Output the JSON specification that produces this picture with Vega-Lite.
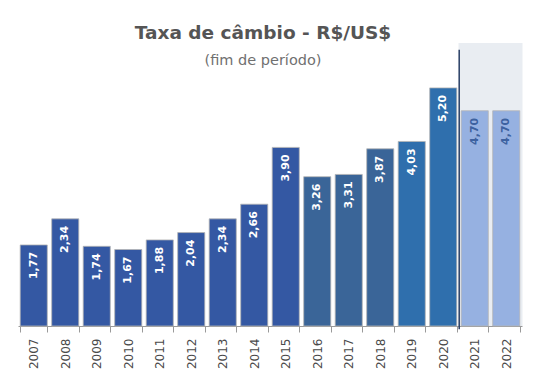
{
  "$schema": "https://vega.github.io/schema/vega-lite/v6.json",
  "width": 504,
  "height": 283,
  "autosize": {"type": "none"},
  "padding": {"left": 18, "top": 43, "right": 33, "bottom": 61},
  "background": "white",
  "config": {
    "view": {"stroke": null},
    "locale": {"number": {"decimal": ",", "thousands": ".", "grouping": [3], "currency": ["R$", ""]}}
  },
  "title": {
    "text": "Taxa de câmbio - R$/US$",
    "subtitle": "(fim de período)",
    "anchor": "middle",
    "frame": "group",
    "offset": -24,
    "dx": -7,
    "font": "DejaVu Sans",
    "fontSize": 18.5,
    "fontWeight": "bold",
    "color": "#555555",
    "subtitleFont": "DejaVu Sans",
    "subtitleFontSize": 14.5,
    "subtitleColor": "#707070",
    "subtitlePadding": 11
  },
  "data": {
    "values": [
      {"year": "2007", "value": 1.77},
      {"year": "2008", "value": 2.34},
      {"year": "2009", "value": 1.74},
      {"year": "2010", "value": 1.67},
      {"year": "2011", "value": 1.88},
      {"year": "2012", "value": 2.04},
      {"year": "2013", "value": 2.34},
      {"year": "2014", "value": 2.66},
      {"year": "2015", "value": 3.90},
      {"year": "2016", "value": 3.26},
      {"year": "2017", "value": 3.31},
      {"year": "2018", "value": 3.87},
      {"year": "2019", "value": 4.03},
      {"year": "2020", "value": 5.20},
      {"year": "2021", "value": 4.70},
      {"year": "2022", "value": 4.70}
    ]
  },
  "encoding": {
    "x": {
      "field": "year",
      "type": "ordinal",
      "scale": {"paddingInner": 0.14, "paddingOuter": 0.07},
      "axis": {
        "title": null,
        "labelAngle": 270,
        "labelAlign": "right",
        "labelBaseline": "middle",
        "labelFont": "DejaVu Sans",
        "labelFontSize": 12,
        "labelColor": "#4a4a4a",
        "labelPadding": 6,
        "domainColor": "#9a9a9a",
        "tickColor": "#9a9a9a",
        "tickBand": "extent",
        "tickSize": 6
      }
    }
  },
  "layer": [
    {
      "transform": [{"filter": "toNumber(datum.year) >= 2021"}],
      "mark": {"type": "bar", "color": "#e9edf2", "width": {"band": 1.2}},
      "encoding": {
        "y": {"datum": 6.18, "type": "quantitative", "scale": {"domain": [0, 6.18]}, "axis": null},
        "y2": {"datum": 0}
      }
    },
    {
      "mark": {"type": "bar", "stroke": "#b5b5b5", "strokeWidth": 0.8},
      "encoding": {
        "y": {"field": "value", "type": "quantitative", "scale": {"domain": [0, 6.18]}, "axis": null},
        "color": {
          "field": "year",
          "type": "ordinal",
          "legend": null,
          "scale": {
            "domain": ["2007","2008","2009","2010","2011","2012","2013","2014","2015","2016","2017","2018","2019","2020","2021","2022"],
            "range": ["#3458a3","#3458a3","#3458a3","#3458a3","#3458a3","#3458a3","#3458a3","#3458a3","#3458a3","#3a6598","#3a6598","#3a6598","#2f6fad","#2f6fad","#96b1e1","#96b1e1"]
          }
        }
      }
    },
    {
      "mark": {"type": "text", "angle": 270, "align": "right", "baseline": "middle", "dx": -7, "font": "DejaVu Sans", "fontSize": 11, "fontWeight": "bold"},
      "encoding": {
        "y": {"field": "value", "type": "quantitative", "scale": {"domain": [0, 6.18]}},
        "text": {"field": "value", "type": "quantitative", "format": ".2f"},
        "color": {"condition": {"test": "toNumber(datum.year) >= 2021", "value": "#3d62a0"}, "value": "white"}
      }
    },
    {
      "transform": [{"filter": "datum.year == '2021'"}],
      "mark": {"type": "rule", "color": "#2b3f66", "strokeWidth": 1.5, "xOffset": -2},
      "encoding": {
        "x": {"field": "year", "type": "ordinal", "bandPosition": 0},
        "y": {"datum": 6.03, "type": "quantitative", "scale": {"domain": [0, 6.18]}},
        "y2": {"datum": -0.07}
      }
    }
  ]
}
